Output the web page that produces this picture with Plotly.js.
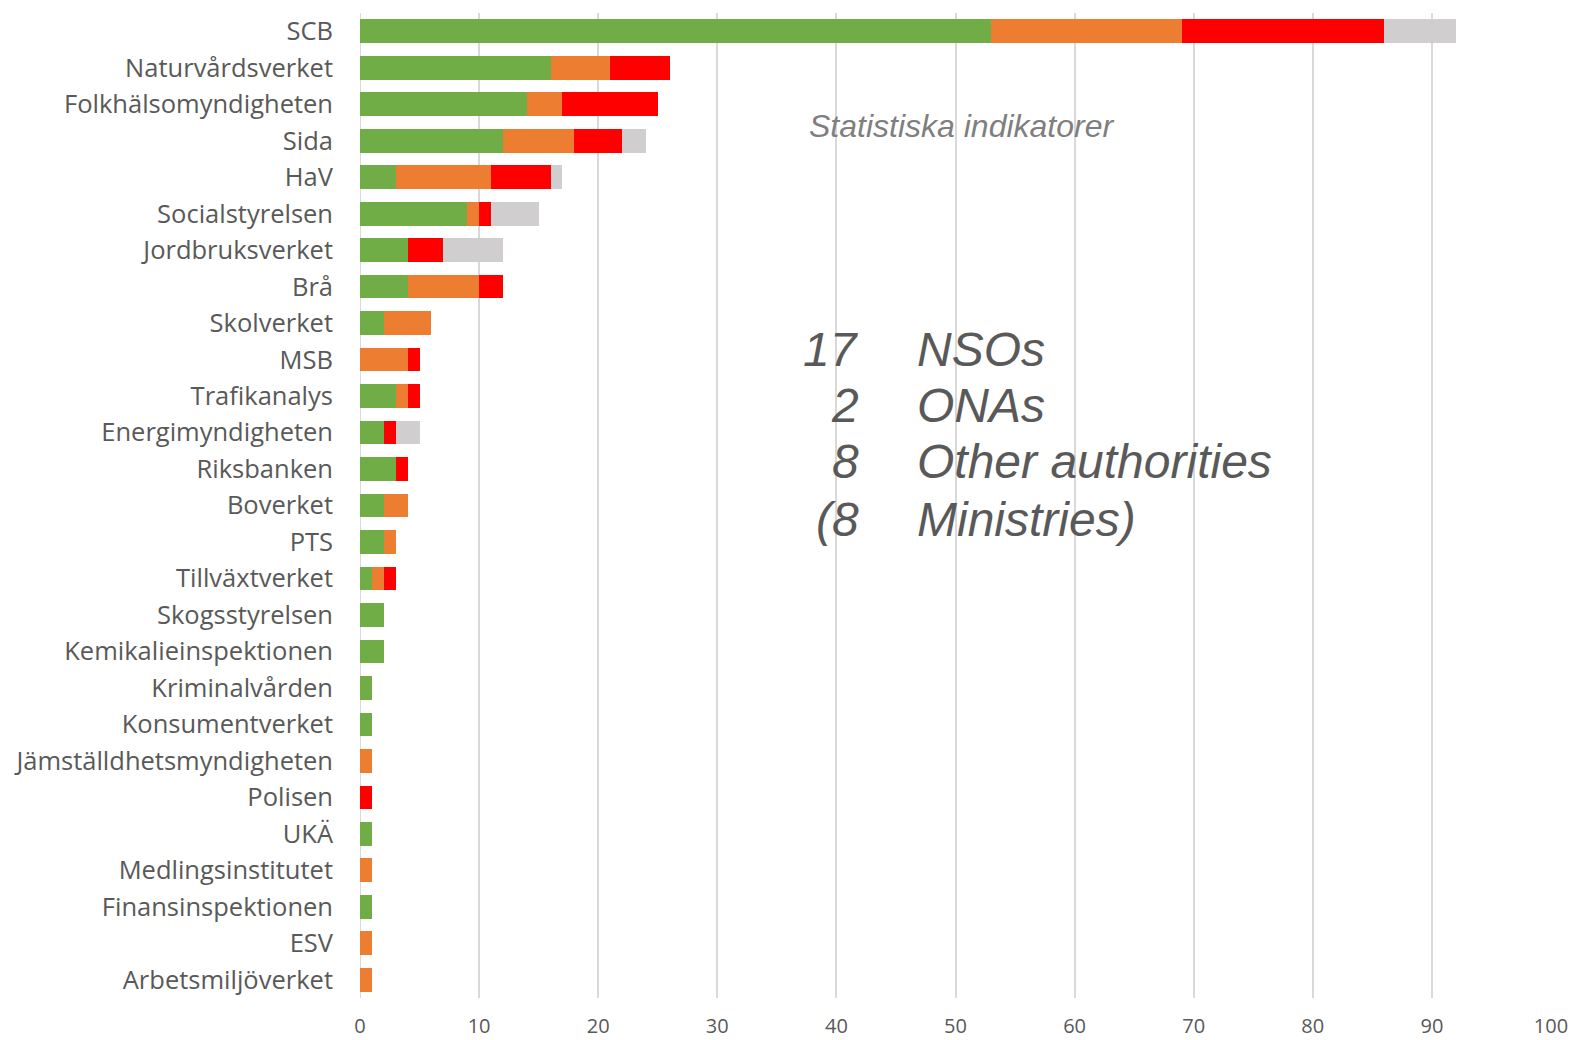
<!DOCTYPE html>
<html>
<head>
<meta charset="utf-8">
<script src="https://cdn.plot.ly/plotly-3.0.1.min.js"></script>
<style>html,body{margin:0;padding:0;background:#fff;}#chart{width:1575px;height:1040px;}</style>
</head>
<body>
<div id="chart"></div>
<script>
// ---- data ----
const categories = ["SCB","Naturvårdsverket","Folkhälsomyndigheten","Sida","HaV","Socialstyrelsen","Jordbruksverket","Brå","Skolverket","MSB","Trafikanalys","Energimyndigheten","Riksbanken","Boverket","PTS","Tillväxtverket","Skogsstyrelsen","Kemikalieinspektionen","Kriminalvården","Konsumentverket","Jämställdhetsmyndigheten","Polisen","UKÄ","Medlingsinstitutet","Finansinspektionen","ESV","Arbetsmiljöverket"];
const greenValues  = [53,16,14,12,3,9,4,4,2,0,3,2,3,2,2,1,2,2,1,1,0,0,1,0,1,0,0];
const orangeValues = [16,5,3,6,8,1,0,6,4,4,1,0,0,2,1,1,0,0,0,0,1,0,0,1,0,1,1];
const redValues    = [17,5,8,4,5,1,3,2,0,1,1,1,1,0,0,1,0,0,0,0,0,1,0,0,0,0,0];
const greyValues   = [6,0,0,2,1,4,5,0,0,0,0,2,0,0,0,0,0,0,0,0,0,0,0,0,0,0,0];
const seriesNames  = ["Grön","Orange","Röd","Grå"];
const xTickValues  = [0,10,20,30,40,50,60,70,80,90,100];
const chartNote    = "Statistiska indikatorer";
const boxCounts    = ["17","2","8","(8"];
const boxLabels    = ["NSOs","ONAs","Other authorities","Ministries)"];

// ---- styling ----
const colors = ["#70AD47","#ED7D31","#FF0000","#D0CECE"];
const allSeries = [greenValues, orangeValues, redValues, greyValues];
const traces = allSeries.map((vals, i) => ({
  type: "bar",
  orientation: "h",
  name: seriesNames[i],
  y: categories,
  x: vals,
  marker: {color: colors[i], line: {width: 0}},
  hoverinfo: "x+y+name"
}));

const L = 360, R = 24, T = 13, B = 42, W = 1575, H = 1040;
const pw = W - L - R, ph = H - T - B;
const paperX = p => (p - L) / pw;
const paperY = p => 1 - (p - T) / ph;

const boxFont = {family: "Liberation Sans, Arial, sans-serif", size: 48, color: "#595959"};
const boxRowsY = [349, 405.5, 462, 519];
const annotations = [{
  xref: "paper", yref: "paper", x: paperX(961), y: paperY(126),
  xanchor: "center", yanchor: "middle", showarrow: false,
  text: "<i>" + chartNote + "</i>",
  font: {family: "Liberation Sans, Arial, sans-serif", size: 32, color: "#7F7F7F"}
}];
boxCounts.forEach((c, i) => {
  annotations.push({
    xref: "paper", yref: "paper", x: paperX(861), y: paperY(boxRowsY[i]),
    xanchor: "right", yanchor: "middle", showarrow: false,
    text: "<i>" + c + "</i>", font: boxFont
  });
  annotations.push({
    xref: "paper", yref: "paper", x: paperX(915), y: paperY(boxRowsY[i]),
    xanchor: "left", yanchor: "middle", showarrow: false,
    text: "<i>" + boxLabels[i] + "</i>", font: boxFont
  });
});

const layout = {
  width: W, height: H,
  margin: {l: L, r: R, t: T, b: B, pad: 0},
  paper_bgcolor: "#FFFFFF", plot_bgcolor: "#FFFFFF",
  barmode: "stack",
  bargap: 0.35,
  showlegend: false,
  font: {family: "Open Sans, sans-serif", color: "#595959"},
  xaxis: {
    range: [0, 100], tickvals: xTickValues, ticktext: xTickValues.map(String),
    showgrid: true, gridcolor: "#D9D9D9", gridwidth: 2,
    zeroline: false, showline: false, ticks: "",
    tickfont: {family: "Open Sans, sans-serif", size: 20, color: "#595959"},
    ticklabelstandoff: 14, fixedrange: true
  },
  yaxis: {
    type: "category", autorange: "reversed",
    showgrid: false, zeroline: false, showline: false, ticks: "",
    tickfont: {family: "Open Sans, sans-serif", size: 25.5, color: "#595959"},
    ticklabelstandoff: 26, fixedrange: true
  },
  shapes: [
    {type: "line", xref: "x", yref: "paper", x0: 0, x1: 0, y0: 0, y1: 1, line: {color: "#D9D9D9", width: 2}, layer: "below"},
    {type: "rect", xref: "paper", yref: "paper", x0: paperX(800), x1: paperX(1122), y0: paperY(156), y1: paperY(97),
     fillcolor: "#FFFFFF", line: {width: 0}, layer: "between"},
    {type: "rect", xref: "paper", yref: "paper", x0: paperX(775), x1: paperX(1305), y0: paperY(556), y1: paperY(309),
     fillcolor: "#FFFFFF", line: {width: 0}, layer: "between"}
  ],
  annotations: annotations
};

Plotly.newPlot("chart", traces, layout, {displayModeBar: false, staticPlot: true});
</script>
</body>
</html>
